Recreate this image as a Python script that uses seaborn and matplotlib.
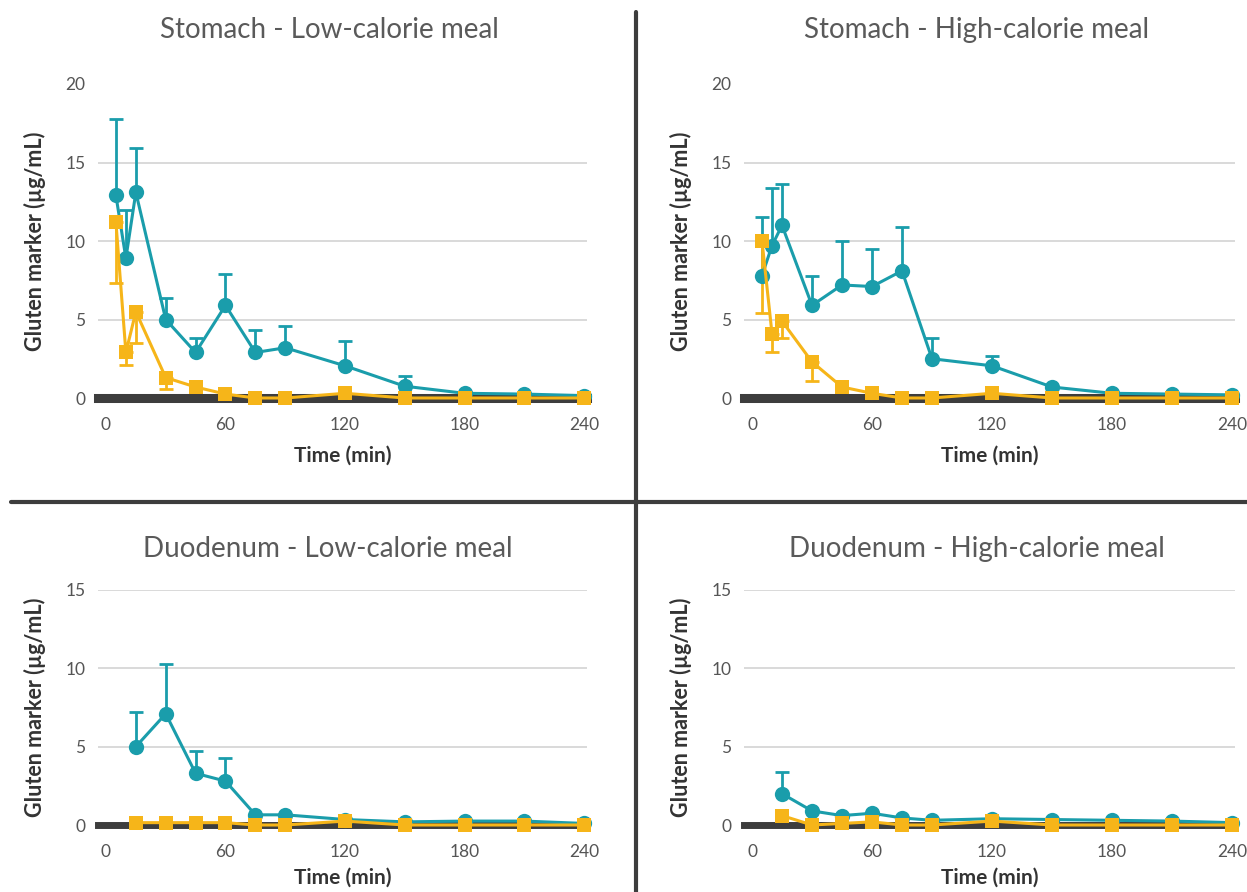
import numpy as np
import pandas as pd
import matplotlib
matplotlib.use("Agg")
import matplotlib.pyplot as plt
from matplotlib.lines import Line2D
import seaborn as sns

# Tiempos de muestreo (min)
times_stomach = [5, 10, 15, 30, 45, 60, 75, 90, 120, 150, 180, 210, 240]
times_duod = [15, 30, 45, 60, 75, 90, 120, 150, 180, 210, 240]

# Estómago - comida baja en calorías
stom_low_teal = [12.9, 8.9, 13.1, 5.0, 2.9, 5.9, 2.9, 3.2, 2.05, 0.75, 0.3, 0.25, 0.15]
stom_low_teal_hi = [17.8, 12.0, 15.9, 6.4, 3.8, 7.9, 4.3, 4.6, 3.6, 1.4, None, None, None]
stom_low_gold = [11.2, 2.9, 5.5, 1.3, 0.7, 0.25, 0.0, 0.0, 0.3, 0.0, 0.0, 0.0, 0.0]
stom_low_gold_lo = [7.3, 2.1, 3.5, 0.6, None, None, None, None, None, None, None, None, None]

# Estómago - comida alta en calorías
stom_high_teal = [7.8, 9.7, 11.0, 5.9, 7.2, 7.1, 8.1, 2.5, 2.05, 0.7, 0.3, 0.25, 0.2]
stom_high_teal_hi = [11.5, 13.4, 13.6, 7.8, 10.0, 9.5, 10.9, 3.8, 2.7, None, None, None, None]
stom_high_gold = [10.0, 4.1, 4.9, 2.3, 0.7, 0.3, 0.0, 0.0, 0.3, 0.0, 0.0, 0.0, 0.0]
stom_high_gold_lo = [5.4, 2.9, 3.8, 1.1, None, None, None, None, None, None, None, None, None]

# Duodeno - comida baja en calorías
duod_low_teal = [5.0, 7.1, 3.3, 2.8, 0.65, 0.65, 0.35, 0.2, 0.25, 0.25, 0.1]
duod_low_teal_hi = [7.2, 10.3, 4.7, 4.3, None, None, None, None, None, None, None]
duod_low_gold = [0.15, 0.15, 0.15, 0.15, 0.0, 0.0, 0.25, 0.0, 0.0, 0.0, 0.0]
duod_low_gold_lo = [None] * 11

# Duodeno - comida alta en calorías
duod_high_teal = [2.0, 0.9, 0.6, 0.75, 0.45, 0.3, 0.4, 0.35, 0.3, 0.25, 0.15]
duod_high_teal_hi = [3.4, None, None, None, None, None, None, None, None, None, None]
duod_high_gold = [0.6, 0.0, 0.1, 0.2, 0.0, 0.0, 0.25, 0.0, 0.0, 0.0, 0.0]
duod_high_gold_lo = [None] * 11

titles = ["Stomach - Low-calorie meal", "Stomach - High-calorie meal",
          "Duodenum - Low-calorie meal", "Duodenum - High-calorie meal"]

TEAL = "#1a9dab"
GOLD = "#f6b519"
DARK = "#3d3d3d"
GRAY_TXT = "#555555"

sns.set_style("white")
plt.rcParams['font.family'] = ['Lato', 'DejaVu Sans']

W, H = 1247, 892
fig = plt.figure(figsize=(W / 100, H / 100), dpi=100)


def px_axes(left, right, bottom, top):
    # convierte píxeles a fracción de figura
    return fig.add_axes([left / W, 1 - bottom / H, (right - left) / W, (bottom - top) / H])


paneles = [
    (px_axes(98, 587, 398, 84), times_stomach, stom_low_teal, stom_low_teal_hi,
     stom_low_gold, stom_low_gold_lo, 20, 329, 30),
    (px_axes(744, 1235, 398, 84), times_stomach, stom_high_teal, stom_high_teal_hi,
     stom_high_gold, stom_high_gold_lo, 20, 977, 30),
    (px_axes(98, 587, 825, 590), times_duod, duod_low_teal, duod_low_teal_hi,
     duod_low_gold, duod_low_gold_lo, 15, 328, 549),
    (px_axes(744, 1235, 825, 590), times_duod, duod_high_teal, duod_high_teal_hi,
     duod_high_gold, duod_high_gold_lo, 15, 977, 549),
]

for i, (ax, t, teal, teal_hi, gold, gold_lo, ymax, tx, ty) in enumerate(paneles):
    df = pd.DataFrame({"t": t, "teal": teal, "gold": gold})

    # barras de error (teal hacia arriba, dorado hacia abajo)
    idx = [k for k, v in enumerate(teal_hi) if v is not None]
    if idx:
        ax.errorbar([t[k] for k in idx], [teal[k] for k in idx],
                    yerr=[[0] * len(idx), [teal_hi[k] - teal[k] for k in idx]],
                    fmt="none", ecolor=TEAL, elinewidth=2, capsize=5, capthick=2,
                    zorder=3, clip_on=False)
    idx = [k for k, v in enumerate(gold_lo) if v is not None]
    if idx:
        ax.errorbar([t[k] for k in idx], [gold[k] for k in idx],
                    yerr=[[gold[k] - gold_lo[k] for k in idx], [0] * len(idx)],
                    fmt="none", ecolor=GOLD, elinewidth=2, capsize=5, capthick=2,
                    zorder=4, clip_on=False)

    sns.lineplot(data=df, x="t", y="teal", ax=ax, color=TEAL, marker="o",
                 markersize=11, markeredgewidth=0, linewidth=2.2, zorder=5, clip_on=False)
    sns.lineplot(data=df, x="t", y="gold", ax=ax, color=GOLD, marker="s",
                 markersize=10, markeredgewidth=0, linewidth=2.2, zorder=6, clip_on=False)

    ax.set_xlim(-4, 241.5)
    ax.set_ylim(0, ymax)
    ax.set_xticks([0, 60, 120, 180, 240])
    ax.set_yticks(np.arange(0, ymax + 1, 5))

    for s in ["top", "right", "left"]:
        ax.spines[s].set_visible(False)
    ax.spines["bottom"].set_color(DARK)
    ax.spines["bottom"].set_linewidth(6.5 if ymax == 20 else 5)
    ax.spines["bottom"].set_zorder(2.5)

    ax.grid(axis="y", color="#cfcfcf", linewidth=1.1)
    ax.set_axisbelow(True)
    if ymax == 20:
        ax.get_ygridlines()[-1].set_visible(False)
    ax.get_ygridlines()[0].set_visible(False)

    ax.tick_params(axis="x", length=7, width=2.5, color=DARK, direction="out",
                   labelsize=12.5, labelcolor=GRAY_TXT, pad=7)
    ax.tick_params(axis="y", length=0, labelsize=12.5, labelcolor=GRAY_TXT, pad=9)

    ax.set_xlabel("Time (min)", fontsize=15, fontweight="bold", color="#333333")
    ax.set_ylabel("Gluten marker (µg/mL)", fontsize=15.5, fontweight="bold", color="#333333")
    if ymax == 20:
        ax.xaxis.set_label_coords(0.5, -48 / 314)
    else:
        ax.xaxis.set_label_coords(0.5, -43 / 235)
    ax.yaxis.set_label_coords(-52 / 490, 0.5)

    fig.text(tx / W, 1 - ty / H, titles[i], ha="center", va="center",
             fontsize=20, fontweight="normal", color="#5a5a5a")

# líneas divisorias entre paneles
fig.add_artist(Line2D([11 / W, 1], [1 - 502 / H, 1 - 502 / H], color=DARK, linewidth=3))
fig.add_artist(Line2D([636 / W, 636 / W], [0, 1 - 12 / H], color=DARK, linewidth=3))

fig.savefig("out.png", dpi=100, facecolor="white")
